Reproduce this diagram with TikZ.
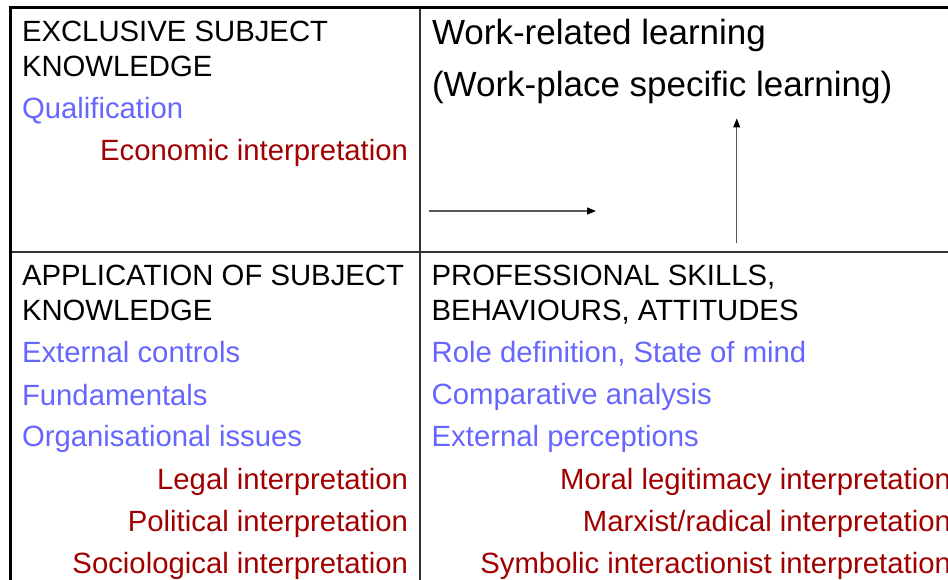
\documentclass[tikz,border=0pt]{standalone}
\usepackage{fontspec}
\setmainfont{Liberation Sans}
\usetikzlibrary{arrows.meta}
\definecolor{blueitem}{HTML}{6666FF}
\definecolor{reditem}{HTML}{A00000}
\definecolor{gridline}{HTML}{333333}
\tikzset{
  txt/.style={inner sep=0pt, outer sep=0pt, font=\fontsize{29.3pt}{34pt}\selectfont},
  head/.style={txt, anchor=base west, text=black},
  title/.style={inner sep=0pt, outer sep=0pt, anchor=base west, font=\fontsize{35pt}{40pt}\selectfont},
  blueline/.style={txt, anchor=base west, text=blueitem},
  redline/.style={txt, anchor=base east, text=reditem},
  flow/.style={draw=black!65, line width=1.1pt, -{Triangle[length=9pt,width=7pt,color=black]}},
}
\begin{document}
\begin{tikzpicture}[x=1pt,y=-1pt]
\useasboundingbox (0,0) rectangle (948,580);
\begin{scope}
\clip (0,0) rectangle (948,580);
% grid
\draw[gridline, line width=2pt] (10,252) -- (960,252);
\draw[gridline, line width=2pt] (420,7.5) -- (420,590);
\draw[black, line width=3pt] (9.3,7.5) -- (960,7.5);
\draw[black, line width=3pt] (10.8,6) -- (10.8,590);
% top-left
\node[head] (h1a) at (22,41.7) {EXCLUSIVE SUBJECT};
\node[head] (h1b) at (22,76.7) {KNOWLEDGE};
\node[blueline] (q) at (22,118.3) {Qualification};
\node[redline] (econ) at (408,160.7) {Economic interpretation};
% top-right
\node[title] (w1) at (432,45) {Work-related learning};
\node[title] (w2) at (432,96.7) {(Work-place specific learning)};
% bottom-left
\node[head] (h2a) at (22,285.7) {APPLICATION OF SUBJECT};
\node[head] (h2b) at (22,320.7) {KNOWLEDGE};
\node[blueline] (ext) at (22,362.7) {External controls};
\node[blueline] (fund) at (22,405) {Fundamentals};
\node[blueline] (org) at (22,446.7) {Organisational issues};
\node[redline] (legal) at (408,489.3) {Legal interpretation};
\node[redline] (pol) at (408,531.7) {Political interpretation};
\node[redline] (soc) at (408,573.3) {Sociological interpretation};
% bottom-right
\node[head] (h3a) at (431.7,285) {PROFESSIONAL SKILLS,};
\node[head] (h3b) at (431.7,320) {BEHAVIOURS, ATTITUDES};
\node[blueline] (role) at (431.7,362) {Role definition, State of mind};
\node[blueline] (comp) at (431.7,404.7) {Comparative analysis};
\node[blueline] (perc) at (431.7,446.7) {External perceptions};
\node[redline] (moral) at (951,489) {Moral legitimacy interpretation};
\node[redline] (marx) at (951,531.5) {Marxist/radical interpretation};
\node[redline] (symb) at (951,573) {Symbolic interactionist interpretation};
% arrows
\coordinate (hs) at (429,211);
\coordinate (he) at (596,211);
\coordinate (vs) at (736.7,243.5);
\coordinate (ve) at (736.7,118.5);
\draw[flow] (hs) -- (he);
\draw[flow] (vs) -- (ve);
\end{scope}
\end{tikzpicture}
\end{document}
